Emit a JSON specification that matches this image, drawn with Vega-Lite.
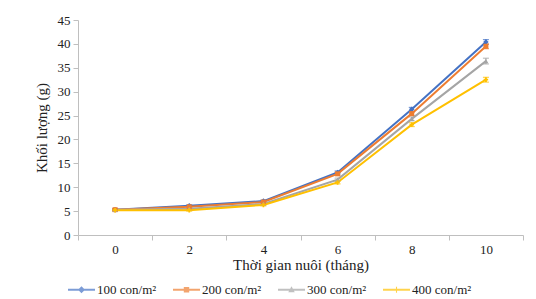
{
  "$schema": "https://vega.github.io/schema/vega-lite/v6.json",
  "autosize": "none",
  "width": 445,
  "height": 215,
  "padding": {"left": 78, "top": 20, "right": 13, "bottom": 64},
  "background": "white",
  "config": {
    "font": "Liberation Serif",
    "view": {"stroke": null},
    "axis": {
      "labelFont": "Liberation Serif",
      "titleFont": "Liberation Serif",
      "labelColor": "#222",
      "titleColor": "#222",
      "domainColor": "#bfbfbf",
      "tickColor": "#bfbfbf",
      "grid": false,
      "labelFontSize": 13,
      "titleFontSize": 15,
      "titleFontWeight": "normal"
    },
    "legend": {"labelFont": "Liberation Serif", "labelFontSize": 13, "labelColor": "#222"}
  },
  "data": {
    "values": [
      {"t": 0, "group": "100 con/m²", "mean": 5.3, "err": 0.2},
      {"t": 2, "group": "100 con/m²", "mean": 6.1, "err": 0.2},
      {"t": 4, "group": "100 con/m²", "mean": 7.1, "err": 0.2},
      {"t": 6, "group": "100 con/m²", "mean": 13.1, "err": 0.3},
      {"t": 8, "group": "100 con/m²", "mean": 26.3, "err": 0.4},
      {"t": 10, "group": "100 con/m²", "mean": 40.4, "err": 0.5},
      {"t": 0, "group": "200 con/m²", "mean": 5.3, "err": 0.2},
      {"t": 2, "group": "200 con/m²", "mean": 5.9, "err": 0.2},
      {"t": 4, "group": "200 con/m²", "mean": 6.9, "err": 0.2},
      {"t": 6, "group": "200 con/m²", "mean": 12.8, "err": 0.3},
      {"t": 8, "group": "200 con/m²", "mean": 25.4, "err": 0.4},
      {"t": 10, "group": "200 con/m²", "mean": 39.5, "err": 0.5},
      {"t": 0, "group": "300 con/m²", "mean": 5.3, "err": 0.2},
      {"t": 2, "group": "300 con/m²", "mean": 5.5, "err": 0.2},
      {"t": 4, "group": "300 con/m²", "mean": 6.5, "err": 0.2},
      {"t": 6, "group": "300 con/m²", "mean": 11.6, "err": 0.3},
      {"t": 8, "group": "300 con/m²", "mean": 24.3, "err": 0.4},
      {"t": 10, "group": "300 con/m²", "mean": 36.4, "err": 0.6},
      {"t": 0, "group": "400 con/m²", "mean": 5.2, "err": 0.2},
      {"t": 2, "group": "400 con/m²", "mean": 5.2, "err": 0.2},
      {"t": 4, "group": "400 con/m²", "mean": 6.3, "err": 0.2},
      {"t": 6, "group": "400 con/m²", "mean": 11.0, "err": 0.3},
      {"t": 8, "group": "400 con/m²", "mean": 23.1, "err": 0.4},
      {"t": 10, "group": "400 con/m²", "mean": 32.5, "err": 0.5}
    ]
  },
  "encoding": {
    "x": {
      "field": "t",
      "type": "ordinal",
      "scale": {"paddingInner": 0, "paddingOuter": 0},
      "axis": {
        "title": "Thời gian nuôi (tháng)",
        "labelFont": "Liberation Serif",
        "titleFont": "Liberation Serif",
        "labelAngle": 0,
        "bandPosition": 0,
        "tickBand": "extent",
        "tickSize": 5,
        "labelPadding": 3,
        "titlePadding": 1
      }
    },
    "y": {
      "field": "mean",
      "type": "quantitative",
      "title": "Khối lượng (g)",
      "scale": {"domain": [0, 45], "nice": false},
      "axis": {
        "labelFont": "Liberation Serif",
        "titleFont": "Liberation Serif",
        "values": [0, 5, 10, 15, 20, 25, 30, 35, 40, 45],
        "tickSize": 5,
        "labelPadding": 3,
        "titlePadding": 8
      }
    },
    "color": {
      "field": "group",
      "type": "nominal",
      "title": null,
      "scale": {
        "domain": ["100 con/m²", "200 con/m²", "300 con/m²", "400 con/m²"],
        "range": ["#4472C4", "#ED7D31", "#A5A5A5", "#FFC000"]
      },
      "legend": {
        "orient": "none",
        "legendX": -10,
        "legendY": 256,
        "direction": "horizontal",
        "columns": 4,
        "columnPadding": 16,
        "symbolSize": 729,
        "symbolStrokeWidth": 0,
        "labelOffset": 2,
        "labelFont": "Liberation Serif",
        "labelFontSize": 13
      }
    }
  },
  "layer": [
    {
      "mark": {"type": "errorbar", "ticks": {"size": 6}, "thickness": 1.2},
      "encoding": {"yError": {"field": "err"}}
    },
    {
      "mark": {"type": "line", "strokeWidth": 2}
    },
    {
      "transform": [{"filter": "datum.group == '100 con/m²'"}],
      "mark": {"type": "point", "filled": true, "opacity": 1, "size": 30, "shape": "diamond"}
    },
    {
      "transform": [{"filter": "datum.group == '200 con/m²'"}],
      "mark": {"type": "point", "filled": true, "opacity": 1, "size": 25, "shape": "square"}
    },
    {
      "transform": [{"filter": "datum.group == '300 con/m²'"}],
      "mark": {"type": "point", "filled": true, "opacity": 1, "size": 25, "shape": "triangle-up"}
    },
    {
      "transform": [{"filter": "datum.group == '400 con/m²'"}],
      "mark": {"type": "point", "filled": true, "opacity": 1, "size": 20, "shape": "cross"}
    },
    {
      "transform": [{"filter": "false"}],
      "mark": {"type": "point", "filled": true, "opacity": 1},
      "encoding": {
        "shape": {
          "field": "group",
          "type": "nominal",
          "title": null,
          "scale": {
            "domain": ["100 con/m²", "200 con/m²", "300 con/m²", "400 con/m²"],
            "range": [
              "M-1,-0.07H1V0.07H-1Z M0,-0.26L0.26,0L0,0.26L-0.26,0Z",
              "M-1,-0.07H1V0.07H-1Z M-0.2,-0.2H0.2V0.2H-0.2Z",
              "M-1,-0.07H1V0.07H-1Z M0,-0.26L0.24,0.18H-0.24Z",
              "M-1,-0.07H1V0.07H-1Z M-0.04,-0.22H0.04V0.22H-0.04Z"
            ]
          },
          "legend": {
            "orient": "none",
            "legendX": -10,
            "legendY": 256,
            "direction": "horizontal",
            "columns": 4,
            "columnPadding": 16,
            "symbolSize": 729,
            "symbolStrokeWidth": 0,
            "labelOffset": 2,
            "labelFont": "Liberation Serif",
            "labelFontSize": 13
          }
        }
      }
    }
  ]
}
